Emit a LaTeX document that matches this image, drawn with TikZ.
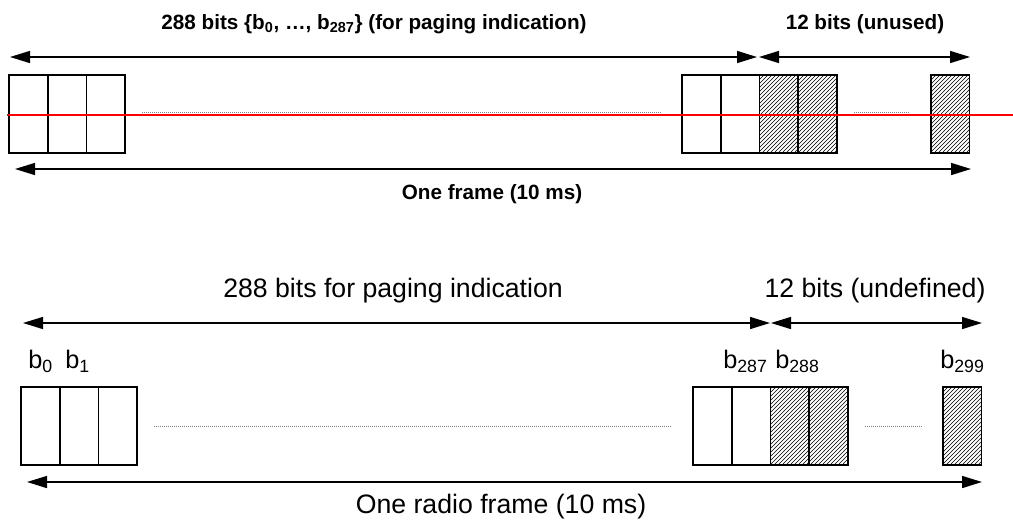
\documentclass[tikz,border=0pt]{standalone}
\usepackage{fontspec}
\setmainfont{Liberation Sans}
\usetikzlibrary{arrows.meta,patterns}

\begin{document}
\begin{tikzpicture}[x=0.75pt, y=-0.75pt, >={Triangle[length=15pt,width=9pt]},
    % Stil für die Bitzellen
        cell/.style={rectangle, draw=black, line width=1.2pt, inner sep=0pt, outer sep=0pt, minimum width=29pt, minimum height=58.5pt},
        unused/.style={cell, pattern=north east lines},
    % Stil für die Maßpfeile
        measure/.style={<->, draw=black, line width=1.1pt},
    % Stile für Punktlinien und Markierung
        dotline/.style={draw=gray, line width=0.7pt, dash pattern=on 0.75pt off 0.75pt},
        redline/.style={draw=red, line width=1.3pt},
    % Stile für die Beschriftungen
        boldtext/.style={font=\fontsize{15.5pt}{18pt}\selectfont\bfseries, anchor=base, inner sep=0pt},
        plaintext/.style={font=\fontsize{20pt}{24pt}\selectfont, anchor=base, inner sep=0pt},
        bitname/.style={font=\fontsize{19pt}{22pt}\selectfont, anchor=base west, inner sep=0pt}]

        \useasboundingbox (0,0) rectangle (1013,519);

        % Oberes Bild: Bitzellen
        \node[cell] (t1) at (28.35,114) {};
        \node[cell] (t2) at (67.05,114) {};
        \node[cell] (t3) at (105.75,114) {};
        \node[cell] (t4) at (701.35,114) {};
        \node[cell] (t5) at (740.05,114) {};
        \node[unused] (t6) at (778.75,114) {};
        \node[unused] (t7) at (817.45,114) {};
        \node[unused] (t8) at (950.35,114) {};

        % Punktlinien zwischen den Zellgruppen
        \draw[dotline] ([xshift=13pt,yshift=1.2pt]t3.east) -- ([xshift=-16pt,yshift=1.2pt]t4.west);
        \draw[dotline] ([xshift=13pt,yshift=1.2pt]t7.east) -- ([xshift=-16pt,yshift=1.2pt]t8.west);

        % rote Linie durch die Zellen
        \coordinate (r1) at (7,115);
        \coordinate (r2) at (1013,115);
        \draw[redline] (r1) -- (r2);

        % Pfeile und Texte oben
        \coordinate (ta) at (10,57);
        \coordinate (tb) at (757,57);
        \coordinate (tc) at (759,57);
        \coordinate (td) at (970,57);
        \coordinate (te) at (15,169);
        \coordinate (tf) at (971,169);
        \draw[measure] (ta) -- (tb);
        \draw[measure] (tc) -- (td);
        \draw[measure] (te) -- (tf);
        \node[boldtext] (tt1) at (374,29) {288 bits \{b\textsubscript{0}, …, b\textsubscript{287}\} (for paging indication)};
        \node[boldtext] (tt2) at (865,29) {12 bits (unused)};
        \node[boldtext] (tt3) at (492,199) {One frame (10 ms)};

        % Unteres Bild: Bitzellen
        \node[cell] (b1) at (40.35,426) {};
        \node[cell] (b2) at (79.05,426) {};
        \node[cell] (b3) at (117.75,426) {};
        \node[cell] (b4) at (712.35,426) {};
        \node[cell] (b5) at (751.05,426) {};
        \node[unused] (b6) at (789.75,426) {};
        \node[unused] (b7) at (828.45,426) {};
        \node[unused] (b8) at (962.35,426) {};

        \draw[dotline] ([xshift=13pt]b3.east) -- ([xshift=-16pt]b4.west);
        \draw[dotline] ([xshift=13pt]b7.east) -- ([xshift=-16pt]b8.west);

        % Bitnamen über den Zellen
        \node[bitname] (n0) at (28,368) {b\textsubscript{0}};
        \node[bitname] (n1) at (65,368) {b\textsubscript{1}};
        \node[bitname] (n287) at (723,368) {b\textsubscript{287}};
        \node[bitname] (n288) at (775,368) {b\textsubscript{288}};
        \node[bitname] (n299) at (940,368) {b\textsubscript{299}};

        % Pfeile und Texte unten
        \coordinate (ba) at (23,323);
        \coordinate (bb) at (770,323);
        \coordinate (bc) at (771,323);
        \coordinate (bd) at (982,323);
        \coordinate (be) at (27,482);
        \coordinate (bf) at (982,482);
        \draw[measure] (ba) -- (bb);
        \draw[measure] (bc) -- (bd);
        \draw[measure] (be) -- (bf);
        \node[plaintext] (bt1) at (393,297) {288 bits for paging indication};
        \node[plaintext] (bt2) at (875,297) {12 bits (undefined)};
        \node[plaintext] (bt3) at (501,513) {One radio frame (10 ms)};
    \end{tikzpicture}
\end{document}
